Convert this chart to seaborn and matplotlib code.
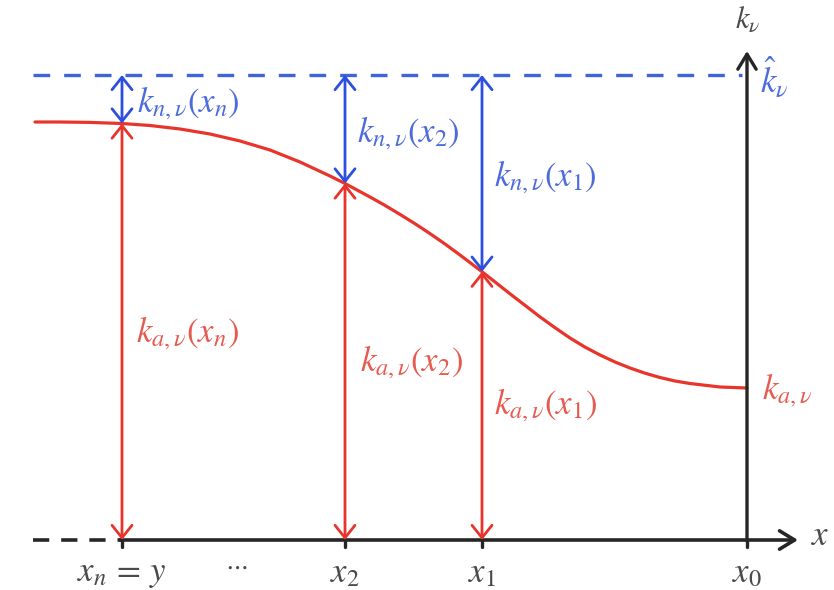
import matplotlib
matplotlib.use("Agg")
import matplotlib.pyplot as plt
import seaborn as sns
import pandas as pd

# Absorption coefficient profile along the path (x measured left->right, k upward)
curve_x = [35, 60, 90, 122, 150, 180, 210, 240, 270, 300, 330, 345, 370, 385,
           400, 415, 430, 445, 460, 482, 510, 540, 555, 570, 585, 600, 615,
           630, 645, 660, 675, 690, 720, 747]
curve_k = [418, 418, 417.6, 416.5, 414.5, 411, 406, 399, 390, 378, 364, 356.5,
           343, 334.6, 325.6, 316.3, 306.4, 296, 285, 268.3, 246.2, 223.1,
           212.3, 202, 192.9, 185, 178, 172, 166.8, 162.5, 159, 156.5, 153,
           152]

# Sample points x_n ... x_0 and their curve values
point_names = [r"$x_n\,=\,y$", r"$x_2$", r"$x_1$", r"$x_0$"]
point_x = [122, 345, 482, 747]
point_k = [416.5, 356.5, 268.3, 152]
k_hat = 465

blue_labels = [r"$k_{n,\nu}(x_n)$", r"$k_{n,\nu}(x_2)$", r"$k_{n,\nu}(x_1)$"]
red_labels = [r"$k_{a,\nu}(x_n)$", r"$k_{a,\nu}(x_2)$", r"$k_{a,\nu}(x_1)$"]
blue_label_pos = [(137, 437), (357, 407), (494, 363)]
red_label_pos = [(136, 207), (360, 178), (494, 135)]

RED = "#e8342a"
RED_TXT = "#e65a4f"
BLUE = "#2c4fe0"
BLUE_DASH = "#3f63d8"
BLUE_TXT = "#4d6bdc"
BLACK = "#262626"
GRAY_TXT = "#4a4a4a"

sns.set_theme(style="white")
plt.rcParams["mathtext.fontset"] = "stix"
plt.rcParams["font.family"] = ["STIXGeneral", "DejaVu Sans"]

fig = plt.figure(figsize=(8.34, 5.90), dpi=100)
ax = fig.add_axes([0, 0, 1, 1])
ax.set_xlim(0, 834)
ax.set_ylim(-50, 540)
ax.axis("off")

df = pd.DataFrame({"x": curve_x, "k": curve_k})
sns.lineplot(data=df, x="x", y="k", ax=ax, color=RED, lw=2.3, sort=False,
             estimator=None, zorder=3)
ax.lines[-1].set_solid_joinstyle("round")

# Upper bound (dashed blue)
ax.plot([33, 742], [k_hat, k_hat], color=BLUE_DASH, lw=2.4,
        linestyle=(0, (5, 4.2)), zorder=2, dash_capstyle="butt")

# Axes
ax.plot([33, 122], [0, 0], color=BLACK, lw=2.6, linestyle=(0, (4.5, 3.3)),
        dash_capstyle="butt")
ax.annotate("", xy=(798, 0), xytext=(120, 0),
            arrowprops=dict(arrowstyle="->,head_length=0.9,head_width=0.55",
                            lw=2.6, color=BLACK, shrinkA=0, shrinkB=0),
            zorder=4)
ax.annotate("", xy=(747, 489), xytext=(747, -1),
            arrowprops=dict(arrowstyle="->,head_length=0.9,head_width=0.55",
                            lw=2.4, color=BLACK, shrinkA=0, shrinkB=0),
            zorder=4)
for px in point_x:
    ax.plot([px, px], [0, -7], color=BLACK, lw=2.4, zorder=4)

arrow_style = "<->,head_length=0.75,head_width=0.6"
for px, pk in zip(point_x[:3], point_k[:3]):
    ax.annotate("", xy=(px, pk), xytext=(px, k_hat),
                arrowprops=dict(arrowstyle=arrow_style, lw=2.0, color=BLUE,
                                shrinkA=0, shrinkB=0), zorder=5)
    ax.annotate("", xy=(px, pk), xytext=(px, 0),
                arrowprops=dict(arrowstyle=arrow_style, lw=2.0, color=RED,
                                shrinkA=0, shrinkB=0), zorder=4)

fs = 25
for (tx, ty), s in zip(blue_label_pos, blue_labels):
    ax.text(tx, ty, s, color=BLUE_TXT, fontsize=fs, ha="left", va="center")
for (tx, ty), s in zip(red_label_pos, red_labels):
    ax.text(tx, ty, s, color=RED_TXT, fontsize=fs, ha="left", va="center")

ax.text(762, 150, r"$k_{a,\nu}$", color=RED_TXT, fontsize=fs, ha="left",
        va="center")
ax.text(760, 462, r"$\hat{k}_{\nu}$", color=BLUE_TXT, fontsize=fs, ha="left",
        va="center")
ax.text(748, 520, r"$k_{\nu}$", color=GRAY_TXT, fontsize=fs - 3, ha="center",
        va="center")
ax.text(811, 3, r"$x$", color=GRAY_TXT, fontsize=fs, ha="left",
        va="center")

for px, name in zip(point_x, point_names):
    ax.text(px, -34, name, color=GRAY_TXT, fontsize=fs, ha="center",
            va="center")
ax.text(236, -27, r"$\cdots$", color=GRAY_TXT, fontsize=fs - 7, ha="center",
        va="center")

fig.savefig("out.png", dpi=100)
